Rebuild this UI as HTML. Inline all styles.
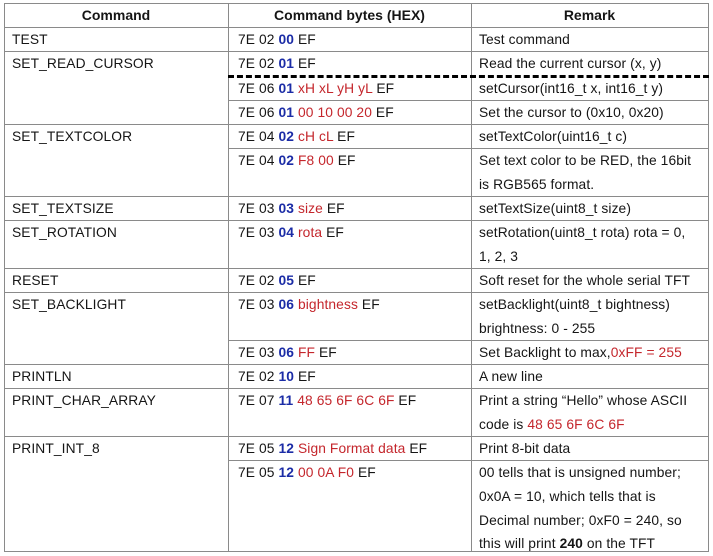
<!DOCTYPE html>
<html><head><meta charset="utf-8"><style>
body{margin:0;width:713px;height:555px;background:#fff;position:relative;overflow:hidden;font-family:"Liberation Sans",sans-serif;font-size:13.8px;letter-spacing:0.1px;color:#151515;}
.h{position:absolute;height:1px;background:#8a8a8a;}
.v{position:absolute;width:1px;background:#8a8a8a;}
.t{position:absolute;white-space:nowrap;line-height:24px;height:24px;}
.b{color:#1b2ca6;font-weight:bold}
.r{color:#c4262c}
.hd{font-weight:bold;text-align:center;font-size:14px;letter-spacing:0}
</style></head><body>
<div class="v" style="left:4px;top:3px;height:548px"></div>
<div class="v" style="left:228px;top:3px;height:548px"></div>
<div class="v" style="left:471px;top:3px;height:548px"></div>
<div class="v" style="left:708px;top:3px;height:548px"></div>
<div class="h" style="left:4px;width:705px;top:3px"></div>
<div class="h" style="left:4px;width:705px;top:27px"></div>
<div class="h" style="left:4px;width:705px;top:51px"></div>
<div class="h" style="left:4px;width:705px;top:124px"></div>
<div class="h" style="left:4px;width:705px;top:196px"></div>
<div class="h" style="left:4px;width:705px;top:220px"></div>
<div class="h" style="left:4px;width:705px;top:268px"></div>
<div class="h" style="left:4px;width:705px;top:292px"></div>
<div class="h" style="left:4px;width:705px;top:364px"></div>
<div class="h" style="left:4px;width:705px;top:388px"></div>
<div class="h" style="left:4px;width:705px;top:436px"></div>
<div class="h" style="left:4px;width:705px;top:551px"></div>
<div class="h" style="left:228px;width:481px;top:100px"></div>
<div class="h" style="left:228px;width:481px;top:148px"></div>
<div class="h" style="left:228px;width:481px;top:340px"></div>
<div class="h" style="left:228px;width:481px;top:460px"></div>
<div style="position:absolute;left:228px;width:481px;top:75px;height:0;border-top:3px dashed #000"></div>

<div class="t hd" style="left:4px;width:224px;top:3px">Command</div>
<div class="t hd" style="left:228px;width:243px;top:3px">Command bytes (HEX)</div>
<div class="t hd" style="left:471px;width:237px;top:3px">Remark</div>

<div class="t" style="left:12px;top:28px">TEST</div>
<div class="t" style="left:12px;top:52px">SET_READ_CURSOR</div>
<div class="t" style="left:12px;top:125px">SET_TEXTCOLOR</div>
<div class="t" style="left:12px;top:197px">SET_TEXTSIZE</div>
<div class="t" style="left:12px;top:221px">SET_ROTATION</div>
<div class="t" style="left:12px;top:269px">RESET</div>
<div class="t" style="left:12px;top:293px">SET_BACKLIGHT</div>
<div class="t" style="left:12px;top:365px">PRINTLN</div>
<div class="t" style="left:12px;top:389px">PRINT_CHAR_ARRAY</div>
<div class="t" style="left:12px;top:437px">PRINT_INT_8</div>

<div class="t" style="left:238px;top:28px">7E 02 <span class="b">00</span> EF</div>
<div class="t" style="left:238px;top:52px">7E 02 <span class="b">01</span> EF</div>
<div class="t" style="left:238px;top:77px">7E 06 <span class="b">01</span> <span class="r">xH xL yH yL</span> EF</div>
<div class="t" style="left:238px;top:101px">7E 06 <span class="b">01</span> <span class="r">00 10 00 20</span> EF</div>
<div class="t" style="left:238px;top:125px">7E 04 <span class="b">02</span> <span class="r">cH cL</span> EF</div>
<div class="t" style="left:238px;top:149px">7E 04 <span class="b">02</span> <span class="r">F8 00</span> EF</div>
<div class="t" style="left:238px;top:197px">7E 03 <span class="b">03</span> <span class="r">size</span> EF</div>
<div class="t" style="left:238px;top:221px">7E 03 <span class="b">04</span> <span class="r">rota</span> EF</div>
<div class="t" style="left:238px;top:269px">7E 02 <span class="b">05</span> EF</div>
<div class="t" style="left:238px;top:293px">7E 03 <span class="b">06</span> <span class="r">bightness</span> EF</div>
<div class="t" style="left:238px;top:341px">7E 03 <span class="b">06</span> <span class="r">FF</span> EF</div>
<div class="t" style="left:238px;top:365px">7E 02 <span class="b">10</span> EF</div>
<div class="t" style="left:238px;top:389px">7E 07 <span class="b">11</span> <span class="r">48 65 6F 6C 6F</span> EF</div>
<div class="t" style="left:238px;top:437px">7E 05 <span class="b">12</span> <span class="r">Sign Format data</span> EF</div>
<div class="t" style="left:238px;top:461px">7E 05 <span class="b">12</span> <span class="r">00 0A F0</span> EF</div>

<div class="t" style="left:479px;top:28px">Test command</div>
<div class="t" style="left:479px;top:52px">Read the current cursor (x, y)</div>
<div class="t" style="left:479px;top:77px">setCursor(int16_t x, int16_t y)</div>
<div class="t" style="left:479px;top:101px">Set the cursor to (0x10, 0x20)</div>
<div class="t" style="left:479px;top:125px">setTextColor(uint16_t c)</div>
<div class="t" style="left:479px;top:149px">Set text color to be RED, the 16bit</div>
<div class="t" style="left:479px;top:173px">is RGB565 format.</div>
<div class="t" style="left:479px;top:197px">setTextSize(uint8_t size)</div>
<div class="t" style="left:479px;top:221px">setRotation(uint8_t rota) rota = 0,</div>
<div class="t" style="left:479px;top:245px">1, 2, 3</div>
<div class="t" style="left:479px;top:269px">Soft reset for the whole serial TFT</div>
<div class="t" style="left:479px;top:293px">setBacklight(uint8_t bightness)</div>
<div class="t" style="left:479px;top:317px">brightness: 0 - 255</div>
<div class="t" style="left:479px;top:341px">Set Backlight to max,<span class="r">0xFF = 255</span></div>
<div class="t" style="left:479px;top:365px">A new line</div>
<div class="t" style="left:479px;top:389px">Print a string “Hello” whose ASCII</div>
<div class="t" style="left:479px;top:413px">code is <span class="r">48 65 6F 6C 6F</span></div>
<div class="t" style="left:479px;top:437px">Print 8-bit data</div>
<div class="t" style="left:479px;top:461px">00 tells that is unsigned number;</div>
<div class="t" style="left:479px;top:485px">0x0A = 10, which tells that is</div>
<div class="t" style="left:479px;top:509px">Decimal number; 0xF0 = 240, so</div>
<div class="t" style="left:479px;top:532px">this will print <b>240</b> on the TFT</div>
</body></html>
